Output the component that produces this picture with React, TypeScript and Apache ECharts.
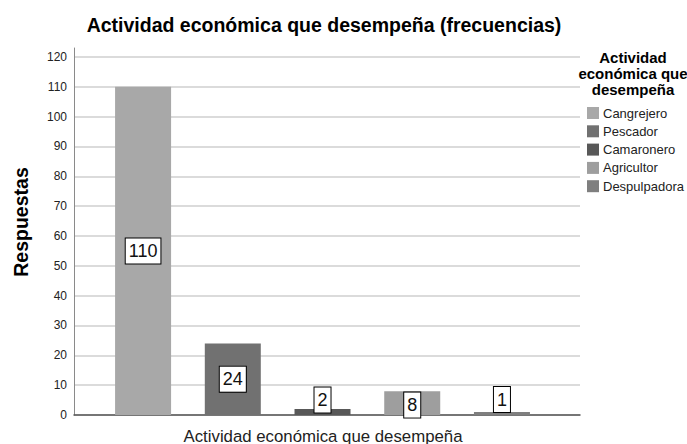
import React, { useEffect, useRef } from "react";
import * as echarts from "echarts";

const categories = ["Cangrejero", "Pescador", "Camaronero", "Agricultor", "Despulpadora"];
const counts = [110, 24, 2, 8, 1];

const titleText = "Actividad económica que desempeña (frecuencias)";
const xAxisTitle = "Actividad económica que desempeña";
const yAxisTitle = "Respuestas";
const legendTitle = "Actividad\neconómica que\ndesempeña";

const barColors = ["#a8a8a8", "#717171", "#585858", "#9e9e9e", "#7f7f7f"];
const labelShift = [0, 0, -12, 2, -14];

const FONT = "'Liberation Sans', Arial, sans-serif";

export default function App() {
  const ref = useRef<HTMLDivElement>(null);
  useEffect(() => {
    if (!ref.current) return;
    const chart = echarts.init(ref.current, undefined, { renderer: "svg" });
    const series = categories.map((name, i) => ({
      name,
      type: "bar",
      barWidth: 56,
      barGap: "-100%",
      data: [[i, counts[i]]],
      itemStyle: { color: barColors[i] },
      label: {
        show: true,
        position: "inside",
        offset: [0, labelShift[i]],
        formatter: (p: any) => String(p.value[1]),
        color: "#111",
        fontFamily: FONT,
        fontSize: 18,
        backgroundColor: "#ffffff",
        borderColor: "#000000",
        borderWidth: 1,
        padding: [4, 3, 3, 3],
      },
    }));
    chart.setOption({
      animation: false,
      textStyle: { fontFamily: FONT },
      grid: { left: 74, right: 107, top: 48, bottom: 29, containLabel: false },
      xAxis: {
        type: "value",
        min: -0.77,
        max: 4.87,
        axisLine: { show: true, onZero: false, lineStyle: { color: "#555", width: 1.5 } },
        axisTick: { show: false },
        axisLabel: { show: false },
        splitLine: { show: false },
      },
      yAxis: {
        type: "value",
        min: 0,
        max: 123,
        interval: 10,
        axisLine: { show: true, onZero: false, lineStyle: { color: "#8a8a8a", width: 1 } },
        axisTick: { show: false },
        axisLabel: {
          color: "#222",
          fontSize: 12,
          margin: 7,
          showMaxLabel: false,
          formatter: (v: number) => (v % 10 === 0 ? String(v) : ""),
        },
        splitLine: { show: true, showMaxLine: false, lineStyle: { color: "#cfcfcf", width: 1.5 } },
      },
      legend: {
        orient: "vertical",
        left: 582,
        top: 100,
        icon: "rect",
        itemWidth: 12,
        itemHeight: 12,
        itemGap: 2.3,
        data: categories,
        textStyle: { fontSize: 13, color: "#222", lineHeight: 16, fontFamily: FONT, padding: [0, 0, 0, -1] },
      },
      graphic: [
        {
          type: "text",
          x: 324,
          y: 25,
          style: {
            text: titleText,
            fontFamily: FONT,
            fontWeight: "bold",
            fontSize: 19.5,
            fill: "#000",
            textAlign: "center",
            textVerticalAlign: "middle",
          },
        },
        {
          type: "text",
          x: 633,
          y: 49,
          style: {
            text: legendTitle,
            fontFamily: FONT,
            fontWeight: "bold",
            fontSize: 15,
            lineHeight: 16,
            fill: "#000",
            textAlign: "center",
          },
        },
        {
          type: "text",
          x: 21,
          y: 222,
          rotation: Math.PI / 2,
          style: {
            text: yAxisTitle,
            fontFamily: FONT,
            fontWeight: "bold",
            fontSize: 19.5,
            fill: "#000",
            textAlign: "center",
            textVerticalAlign: "middle",
          },
        },
        {
          type: "text",
          x: 323,
          y: 436,
          style: {
            text: xAxisTitle,
            fontFamily: FONT,
            fontSize: 16.8,
            fill: "#222",
            textAlign: "center",
            textVerticalAlign: "middle",
          },
        },
      ],
      series,
    });
    return () => chart.dispose();
  }, []);
  return (
    <div
      ref={ref}
      style={{ position: "absolute", left: 0, top: 0, width: 687, height: 444 }}
    />
  );
}
